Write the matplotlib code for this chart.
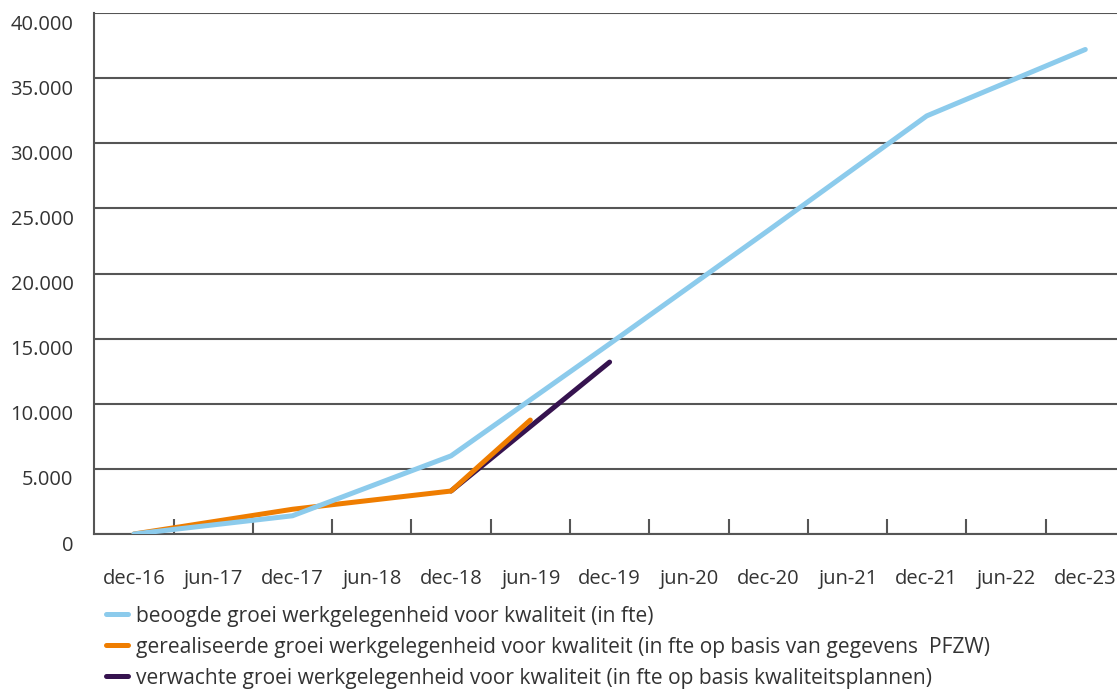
import numpy as np
import matplotlib.pyplot as plt
from matplotlib import ticker
import matplotlib.transforms as mtransforms

plt.rcParams['font.family'] = ['Open Sans', 'DejaVu Sans']

# categorieën op de x-as
categories = ['dec-16', 'jun-17', 'dec-17', 'jun-18', 'dec-18', 'jun-19', 'dec-19',
              'jun-20', 'dec-20', 'jun-21', 'dec-21', 'jun-22', 'dec-23']

# beoogde groei (in fte)
beoogd_cats = ['dec-16', 'dec-17', 'dec-18', 'dec-19', 'dec-20', 'dec-21', 'dec-23']
beoogd_vals = [0, 1400, 6000, 14600, 23300, 32100, 37200]

# gerealiseerde groei (PFZW)
gerealiseerd_cats = ['dec-16', 'dec-17', 'dec-18', 'jun-19']
gerealiseerd_vals = [0, 1900, 3300, 8750]

# verwachte groei (kwaliteitsplannen)
verwacht_cats = ['dec-18', 'dec-19']
verwacht_vals = [3300, 13200]

labels = ['beoogde groei werkgelegenheid voor kwaliteit (in fte)',
          'gerealiseerde groei werkgelegenheid voor kwaliteit (in fte op basis van gegevens  PFZW)',
          'verwachte groei werkgelegenheid voor kwaliteit (in fte op basis kwaliteitsplannen)']
colors = ['#8ccbec', '#ef7d00', '#36134f']

pos = {c: i for i, c in enumerate(categories)}
txt = '#333333'
grid = '#555555'

fig = plt.figure(figsize=(11.17, 6.92), dpi=100)
ax = fig.add_axes([0.0844, 0.2283, 0.9227, 0.7529])

ax.plot([pos[c] for c in verwacht_cats], verwacht_vals, color=colors[2], lw=3.6,
        solid_capstyle='round', zorder=3, label=labels[2])
ax.plot([pos[c] for c in gerealiseerd_cats], gerealiseerd_vals, color=colors[1], lw=3.6,
        solid_capstyle='round', zorder=4, label=labels[1])
ax.plot([pos[c] for c in beoogd_cats], beoogd_vals, color=colors[0], lw=3.6,
        solid_capstyle='round', zorder=5, label=labels[0])

ax.set_xlim(-0.5, len(categories) - 0.5)
ax.set_ylim(0, 40000)

# y-as
ax.yaxis.set_major_locator(ticker.MultipleLocator(5000))
ax.yaxis.set_major_formatter(ticker.FuncFormatter(lambda v, p: f'{int(v):,}'.replace(',', '.')))
ax.tick_params(axis='y', length=0, pad=15, labelsize=14.5, labelcolor=txt)
offset = mtransforms.ScaledTranslation(0, -9 / 100, fig.dpi_scale_trans)
for lab in ax.get_yticklabels():
    lab.set_transform(lab.get_transform() + offset)
ax.grid(axis='y', color=grid, lw=1.5, zorder=1)

# x-as
ax.set_xticks(range(len(categories)))
ax.set_xticklabels(categories)
ax.set_xticks(np.arange(0.5, len(categories) - 0.5, 1), minor=True)
ax.tick_params(axis='x', which='major', length=0, pad=25, labelsize=14.5, labelcolor=txt)
ax.tick_params(axis='x', which='minor', direction='in', length=11, width=1.5, color=grid)

for s in ['top', 'right']:
    ax.spines[s].set_visible(False)
for s in ['left', 'bottom']:
    ax.spines[s].set_color(grid)
    ax.spines[s].set_linewidth(1.5)

h, l = ax.get_legend_handles_labels()
fig.legend(h[::-1], l[::-1], loc='upper left', bbox_to_anchor=(0.087, 0.137),
           frameon=False, fontsize=15.1, handlelength=1.05, handletextpad=0.4,
           labelspacing=0.48, borderaxespad=0, labelcolor=txt)

fig.savefig('out.png', dpi=100)
plt.close(fig)
